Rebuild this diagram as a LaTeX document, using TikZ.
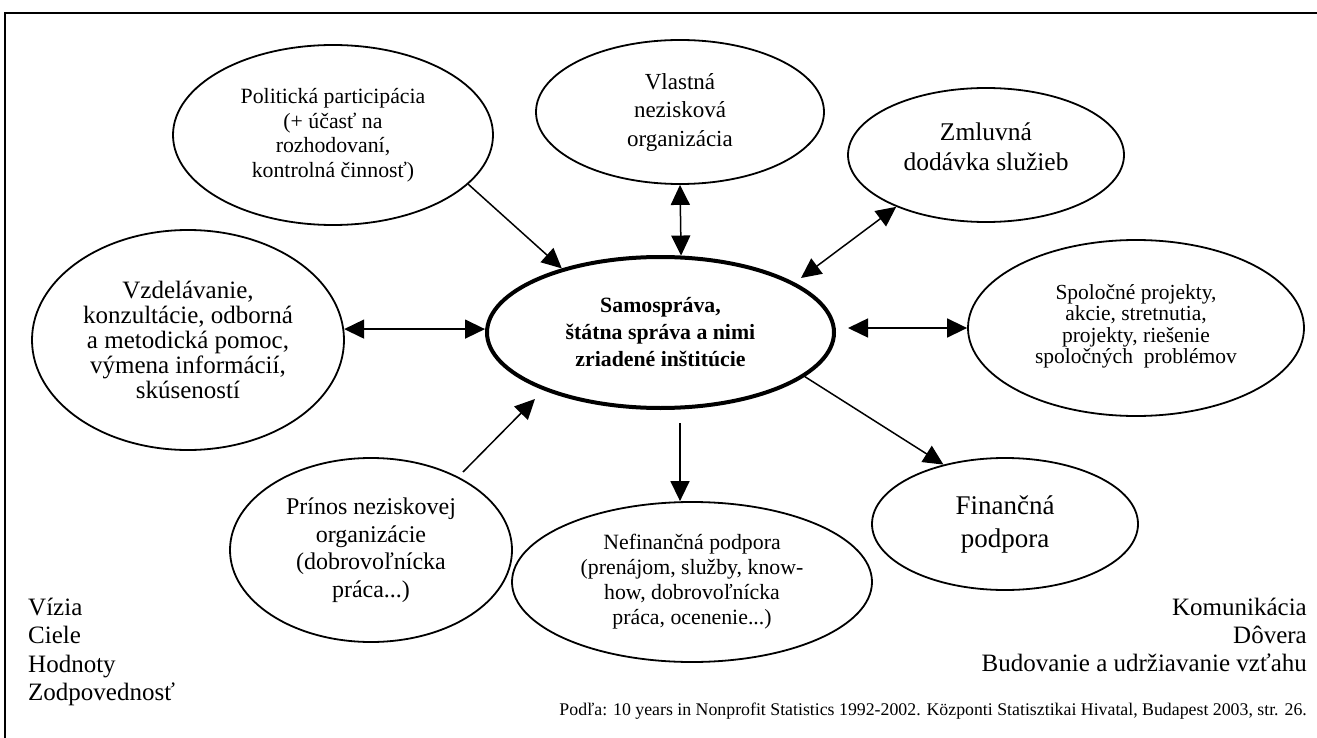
\documentclass[tikz,border=0pt]{standalone}
\usepackage{fontspec}
\setmainfont{Liberation Serif}
\usetikzlibrary{shapes.geometric,arrows.meta}
\begin{document}
\begin{tikzpicture}[x=1pt,y=-1pt,
  bub/.style={ellipse,draw,line width=1.8pt,inner sep=0pt,align=center},
  link/.style={line width=1.5pt,-{Triangle[length=20pt,width=19pt]}},
  dlink/.style={line width=1.5pt,{Triangle[length=20pt,width=19pt]}-{Triangle[length=20pt,width=19pt]}},
  lbl/.style={inner sep=0pt,font=\fontsize{25}{28}\selectfont}]
\useasboundingbox (0,0) rectangle (1317,738);
\draw[line width=2pt] (1317,13) -- (5,13) -- (5,738);

\node[bub,minimum width=320pt,minimum height=180pt,font=\fontsize{21.8}{24.5}\selectfont] (pol) at (333,135)
  {Politická participácia\\(+ účasť na\\rozhodovaní,\\kontrolná činnosť)};
\node[bub,minimum width=288pt,minimum height=144pt,font=\fontsize{23}{28.5}\selectfont] (vla) at (680,112)
  {Vlastná\\nezisková\\organizácia};
\node[bub,minimum width=276pt,minimum height=134pt,font=\fontsize{25.5}{30}\selectfont] (zml) at (986,155)
  {Zmluvná\\dodávka služieb\\[-14pt]\mbox{}};
\node[bub,minimum width=336pt,minimum height=176pt,font=\fontsize{21.5}{21.5}\selectfont] (spo) at (1136,328)
  {Spoločné projekty,\\akcie, stretnutia,\\projekty, riešenie\\spoločných~~problémov\\[-14pt]\mbox{}};
\node[bub,minimum width=312pt,minimum height=220pt,font=\fontsize{25}{25}\selectfont] (vzd) at (188,340)
  {Vzdelávanie,\\konzultácie, odborná\\a metodická pomoc,\\výmena informácií,\\skúseností};
\node[bub,line width=4pt,minimum width=347pt,minimum height=151pt,font=\bfseries\fontsize{21.8}{27}\selectfont] (sam) at (660.5,332.5)
  {Samospráva,\\štátna správa a nimi\\zriadené inštitúcie};
\node[bub,minimum width=282pt,minimum height=184pt,font=\fontsize{24}{27.5}\selectfont] (pri) at (371,550)
  {Prínos neziskovej\\organizácie\\(dobrovoľnícka\\práca...)};
\node[bub,minimum width=360pt,minimum height=160pt,font=\fontsize{21.8}{25}\selectfont] (nef) at (692,582)
  {Nefinančná podpora\\(prenájom, služby, know-\\how, dobrovoľnícka\\práca, ocenenie...)};
\node[bub,minimum width=266pt,minimum height=132pt,font=\fontsize{27}{33}\selectfont] (fin) at (1005,524)
  {Finančná\\podpora};

\coordinate (czml) at (801,278);
\coordinate (cspo) at (848,328);
\coordinate (cpri1) at (463,472);
\coordinate (cpri2) at (535,399);
\coordinate (cnef) at (680,423);

\draw[link] (pol.-20) -- (sam.147);
\draw[dlink] (vla.south) -- (sam.75);
\draw[dlink] (zml.210) -- (czml);
\draw[dlink] (cspo) -- (cspo -| spo.west);
\draw[dlink] (vzd.4) -- (vzd.4 -| sam.west);
\draw[link] (cpri1) -- (cpri2);
\draw[link] (cnef) -- (cnef |- nef.north);
\draw[link] (sam.-17.5) -- (fin.136.5);

\node[lbl,anchor=base west] (l1) at (28,615) {Vízia};
\node[lbl,anchor=base west] (l2) at (28,643.5) {Ciele};
\node[lbl,anchor=base west] (l3) at (28,672) {Hodnoty};
\node[lbl,anchor=base west] (l4) at (28,700.5) {Zodpovednosť};

\node[lbl,anchor=base east] (r1) at (1307,615) {Komunikácia};
\node[lbl,anchor=base east] (r2) at (1307,643) {Dôvera};
\node[lbl,anchor=base east] (r3) at (1307,671) {Budovanie a udržiavanie vzťahu};

\node[inner sep=0pt,anchor=base east,font=\fontsize{17.8}{20}\selectfont] (src) at (1307,715)
  {Podľa: 10 years in Nonprofit Statistics 1992-2002. Központi Statisztikai Hivatal, Budapest 2003, str. 26.};
\end{tikzpicture}
\end{document}
